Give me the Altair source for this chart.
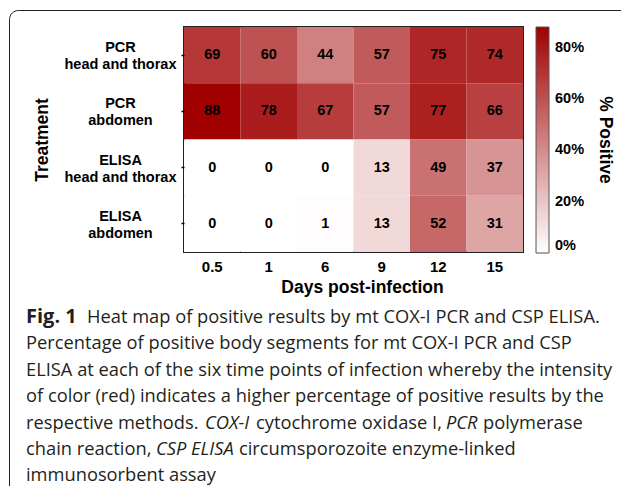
import altair as alt
import pandas as pd

# ---------------- data ----------------
days = ["0.5", "1", "6", "9", "12", "15"]
treatments = ["PCR\nhead and thorax", "PCR\nabdomen", "ELISA\nhead and thorax", "ELISA\nabdomen"]
pcr_head = [69, 60, 44, 57, 75, 74]
pcr_abdomen = [88, 78, 67, 57, 77, 66]
elisa_head = [0, 0, 0, 13, 49, 37]
elisa_abdomen = [0, 0, 1, 13, 52, 31]
legend_values = [0, 20, 40, 60, 80]

caption_lines = [
    [("Fig. 1", "bold", "normal"), ("Heat map of positive results by mt COX-I PCR and CSP ELISA.", "normal", "normal")],
    [("Percentage of positive body segments for mt COX-I PCR and CSP", "normal", "normal")],
    [("ELISA at each of the six time points of infection whereby the intensity", "normal", "normal")],
    [("of color (red) indicates a higher percentage of positive results by the", "normal", "normal")],
    [("respective methods.", "normal", "normal"), ("COX-I", "normal", "italic"),
     ("cytochrome oxidase I,", "normal", "normal"), ("PCR", "normal", "italic"), ("polymerase", "normal", "normal")],
    [("chain reaction,", "normal", "normal"), ("CSP ELISA", "normal", "italic"),
     ("circumsporozoite enzyme-linked", "normal", "normal")],
    [("immunosorbent assay", "normal", "normal")],
]
# x start of every caption segment (page pixels)
caption_x = [[26, 87], [26], [26], [26], [26, 205, 256, 446, 483], [26, 156, 239], [26]]

rows = []
for t, vals in zip(treatments, [pcr_head, pcr_abdomen, elisa_head, elisa_abdomen]):
    for d, v in zip(days, vals):
        rows.append({"Treatment": t, "Day": d, "Pct": v})
df = pd.DataFrame(rows)

FONT = "Liberation Sans"
CAP_FONT = "Open Sans"
PLOT_X0, PLOT_Y0 = 184, 27
W, H = 339, 225

base = alt.Chart(df).encode(
    x=alt.X("Day:N", sort=days, title="Days post-infection",
            scale=alt.Scale(paddingInner=0, paddingOuter=0),
            axis=alt.Axis(labelAngle=0, ticks=False, domain=False, labelPadding=7,
                          labelFont=FONT, labelFontSize=15, labelFontWeight="bold", labelColor="black",
                          titleFont=FONT, titleFontSize=17.5, titleFontWeight="bold", titleColor="black",
                          titleX=178, titleY=35, titleBaseline="middle", titleAlign="center")),
    y=alt.Y("Treatment:N", sort=treatments, title="Treatment",
            scale=alt.Scale(paddingInner=0, paddingOuter=0),
            axis=alt.Axis(tickSize=3, tickColor="black", tickWidth=1.5, domain=False,
                          labelAlign="center", labelBaseline="middle", labelPadding=61,
                          labelOffset=-7,
                          labelLineHeight=17, labelExpr="split(datum.label, '\\n')",
                          labelFont=FONT, labelFontSize=14.5, labelFontWeight="bold", labelColor="black",
                          titleFont=FONT, titleFontSize=17.5, titleFontWeight="bold", titleColor="black",
                          titleX=-142, titleY=112.5, titleAngle=270, titleBaseline="middle",
                          titleAlign="center")),
)

heat = base.mark_rect().encode(
    color=alt.Color("Pct:Q",
                    scale=alt.Scale(domain=[0, 88], range=["#ffffff", "#a00000"], interpolate="rgb"),
                    legend=alt.Legend(orient="none", legendX=352, legendY=0, direction="vertical",
                                      gradientLength=226, gradientThickness=13,
                                      gradientStrokeColor="#555555", gradientStrokeWidth=1,
                                      values=legend_values, labelExpr="datum.value + '%'",
                                      labelFont=FONT, labelFontSize=14.5, labelFontWeight="bold",
                                      labelColor="black", labelOffset=6, labelOverlap=False,
                                      padding=0,
                                      title="% Positive", titleOrient="right",
                                      titleAnchor="middle", titleFont=FONT, titleFontSize=17.5,
                                      titleFontWeight="bold", titleColor="black", titlePadding=12))
)

labels = base.mark_text(font=FONT, fontSize=14.5, fontWeight="bold", color="black").encode(
    text="Pct:Q"
)

one = alt.Data(values=[{}])

border = alt.Chart(one).mark_rect(fillOpacity=0, stroke="#222222", strokeWidth=1, cornerRadius=9).encode(
    x=alt.value(9.5 - PLOT_X0), y=alt.value(10.5 - PLOT_Y0),
    x2=alt.value(660 - PLOT_X0), y2=alt.value(520 - PLOT_Y0),
)

caption_layers = []
for i, (segs, xs) in enumerate(zip(caption_lines, caption_x)):
    y = 323 + 26.4 * i - PLOT_Y0
    for (txt, weight, style), x in zip(segs, xs):
        caption_layers.append(
            alt.Chart(one).mark_text(text=txt, align="left", baseline="alphabetic", font=CAP_FONT,
                                     fontSize=20 if weight == "bold" else 18.3,
                                     fontWeight=weight, fontStyle=style,
                                     color="#231f20").encode(
                x=alt.value(x - PLOT_X0), y=alt.value(y))
        )

chart = alt.layer(border, heat, labels, *caption_layers).properties(
    width=W, height=H,
    autosize=alt.AutoSizeParams(type="none"),
    padding={"left": PLOT_X0 - 8, "top": PLOT_Y0 - 8, "right": 629 - 16 - (PLOT_X0 - 8) - W,
             "bottom": 494 - 16 - (PLOT_Y0 - 8) - H},
).configure_view(stroke="#222222", strokeWidth=2)

chart.save("out.html", embed_options={"renderer": "svg", "actions": False})
